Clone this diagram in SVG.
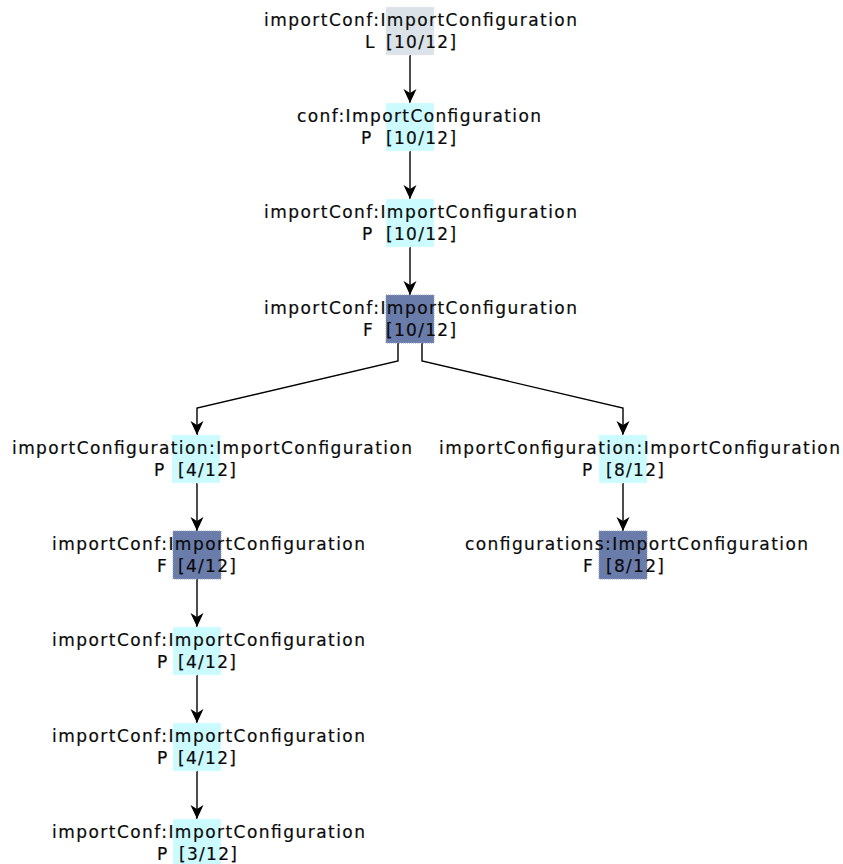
<svg xmlns="http://www.w3.org/2000/svg" width="843" height="864" viewBox="0 0 843 864">
  <defs>
    <marker id="arrow" markerUnits="userSpaceOnUse" markerWidth="16" markerHeight="15" refX="15" refY="7.5" orient="auto">
      <path d="M15,7.5 L1,1 L5,7.5 L1,14 Z" fill="#000"/>
    </marker>
  </defs>
  <style>
    text { font-family: "DejaVu Sans", "Liberation Sans", sans-serif; font-size: 17px; fill: #0a0a0a; stroke: #0a0a0a; stroke-width: 0.2px; }
    .cnt { letter-spacing: 1.3px; }
    .box { stroke-width: 1; stroke-dasharray: 1 1; }
    .L { fill: #dbe3e9; stroke: #e8eef2; }
    .P { fill: #ccfbff; stroke: #e6ffff; }
    .F { fill: #6a7caa; stroke: #8a9bc4; }
    .edge { fill: none; stroke: #000; stroke-width: 1.4; marker-end: url(#arrow); }
  </style>
  <rect width="843" height="864" fill="#fff"/>

  <!-- connectors -->
  <g id="edges">
    <path class="edge" d="M410,55 V103"/>
    <path class="edge" d="M410,151 V199"/>
    <path class="edge" d="M410,247 V295"/>
    <path class="edge" d="M398,343 V361 L197,408 V435"/>
    <path class="edge" d="M422,343 V361 L623,408 V435"/>
    <path class="edge" d="M197,483 V531"/>
    <path class="edge" d="M197,579 V627"/>
    <path class="edge" d="M197,675 V723"/>
    <path class="edge" d="M197,771 V819"/>
    <path class="edge" d="M623,483 V531"/>
  </g>

  <!-- column through the root -->
  <g id="n1">
    <rect class="box L" x="386" y="7" width="48" height="48"/>
    <text x="264" y="26" textLength="313" lengthAdjust="spacing">importConf:ImportConfiguration</text>
    <text y="48"><tspan x="365">L</tspan><tspan class="cnt" x="386">[10/12]</tspan></text>
  </g>
  <g id="n2">
    <rect class="box P" x="386" y="103" width="48" height="48"/>
    <text x="297" y="122" textLength="244" lengthAdjust="spacing">conf:ImportConfiguration</text>
    <text y="144"><tspan x="361">P</tspan><tspan class="cnt" x="386">[10/12]</tspan></text>
  </g>
  <g id="n3">
    <rect class="box P" x="386" y="199" width="48" height="48"/>
    <text x="264" y="218" textLength="313" lengthAdjust="spacing">importConf:ImportConfiguration</text>
    <text y="240"><tspan x="362">P</tspan><tspan class="cnt" x="386">[10/12]</tspan></text>
  </g>
  <g id="n4">
    <rect class="box F" x="386" y="295" width="48" height="48"/>
    <text x="264" y="314" textLength="313" lengthAdjust="spacing">importConf:ImportConfiguration</text>
    <text y="336"><tspan x="363">F</tspan><tspan class="cnt" x="386">[10/12]</tspan></text>
  </g>

  <!-- left branch -->
  <g id="n5">
    <rect class="box P" x="172" y="435" width="48" height="48"/>
    <text x="12" y="454" textLength="400" lengthAdjust="spacing">importConfiguration:ImportConfiguration</text>
    <text y="476"><tspan x="154">P</tspan><tspan class="cnt" x="178">[4/12]</tspan></text>
  </g>
  <g id="n8">
    <rect class="box F" x="173" y="531" width="48" height="48"/>
    <text x="52" y="550" textLength="313" lengthAdjust="spacing">importConf:ImportConfiguration</text>
    <text y="572"><tspan x="157">F</tspan><tspan class="cnt" x="178">[4/12]</tspan></text>
  </g>
  <g id="n9">
    <rect class="box P" x="173" y="627" width="48" height="48"/>
    <text x="52" y="646" textLength="313" lengthAdjust="spacing">importConf:ImportConfiguration</text>
    <text y="668"><tspan x="157">P</tspan><tspan class="cnt" x="178">[4/12]</tspan></text>
  </g>
  <g id="n10">
    <rect class="box P" x="173" y="723" width="48" height="48"/>
    <text x="52" y="742" textLength="313" lengthAdjust="spacing">importConf:ImportConfiguration</text>
    <text y="764"><tspan x="157">P</tspan><tspan class="cnt" x="178">[4/12]</tspan></text>
  </g>
  <g id="n11">
    <rect class="box P" x="173" y="819" width="48" height="48"/>
    <text x="52" y="838" textLength="313" lengthAdjust="spacing">importConf:ImportConfiguration</text>
    <text y="860"><tspan x="157">P</tspan><tspan class="cnt" x="179">[3/12]</tspan></text>
  </g>

  <!-- right branch -->
  <g id="n6">
    <rect class="box P" x="599" y="435" width="48" height="48"/>
    <text x="439" y="454" textLength="401" lengthAdjust="spacing">importConfiguration:ImportConfiguration</text>
    <text y="476"><tspan x="582">P</tspan><tspan class="cnt" x="606">[8/12]</tspan></text>
  </g>
  <g id="n7">
    <rect class="box F" x="599" y="531" width="48" height="48"/>
    <text x="465" y="550" textLength="343" lengthAdjust="spacing">configurations:ImportConfiguration</text>
    <text y="572"><tspan x="583">F</tspan><tspan class="cnt" x="606">[8/12]</tspan></text>
  </g>
</svg>
